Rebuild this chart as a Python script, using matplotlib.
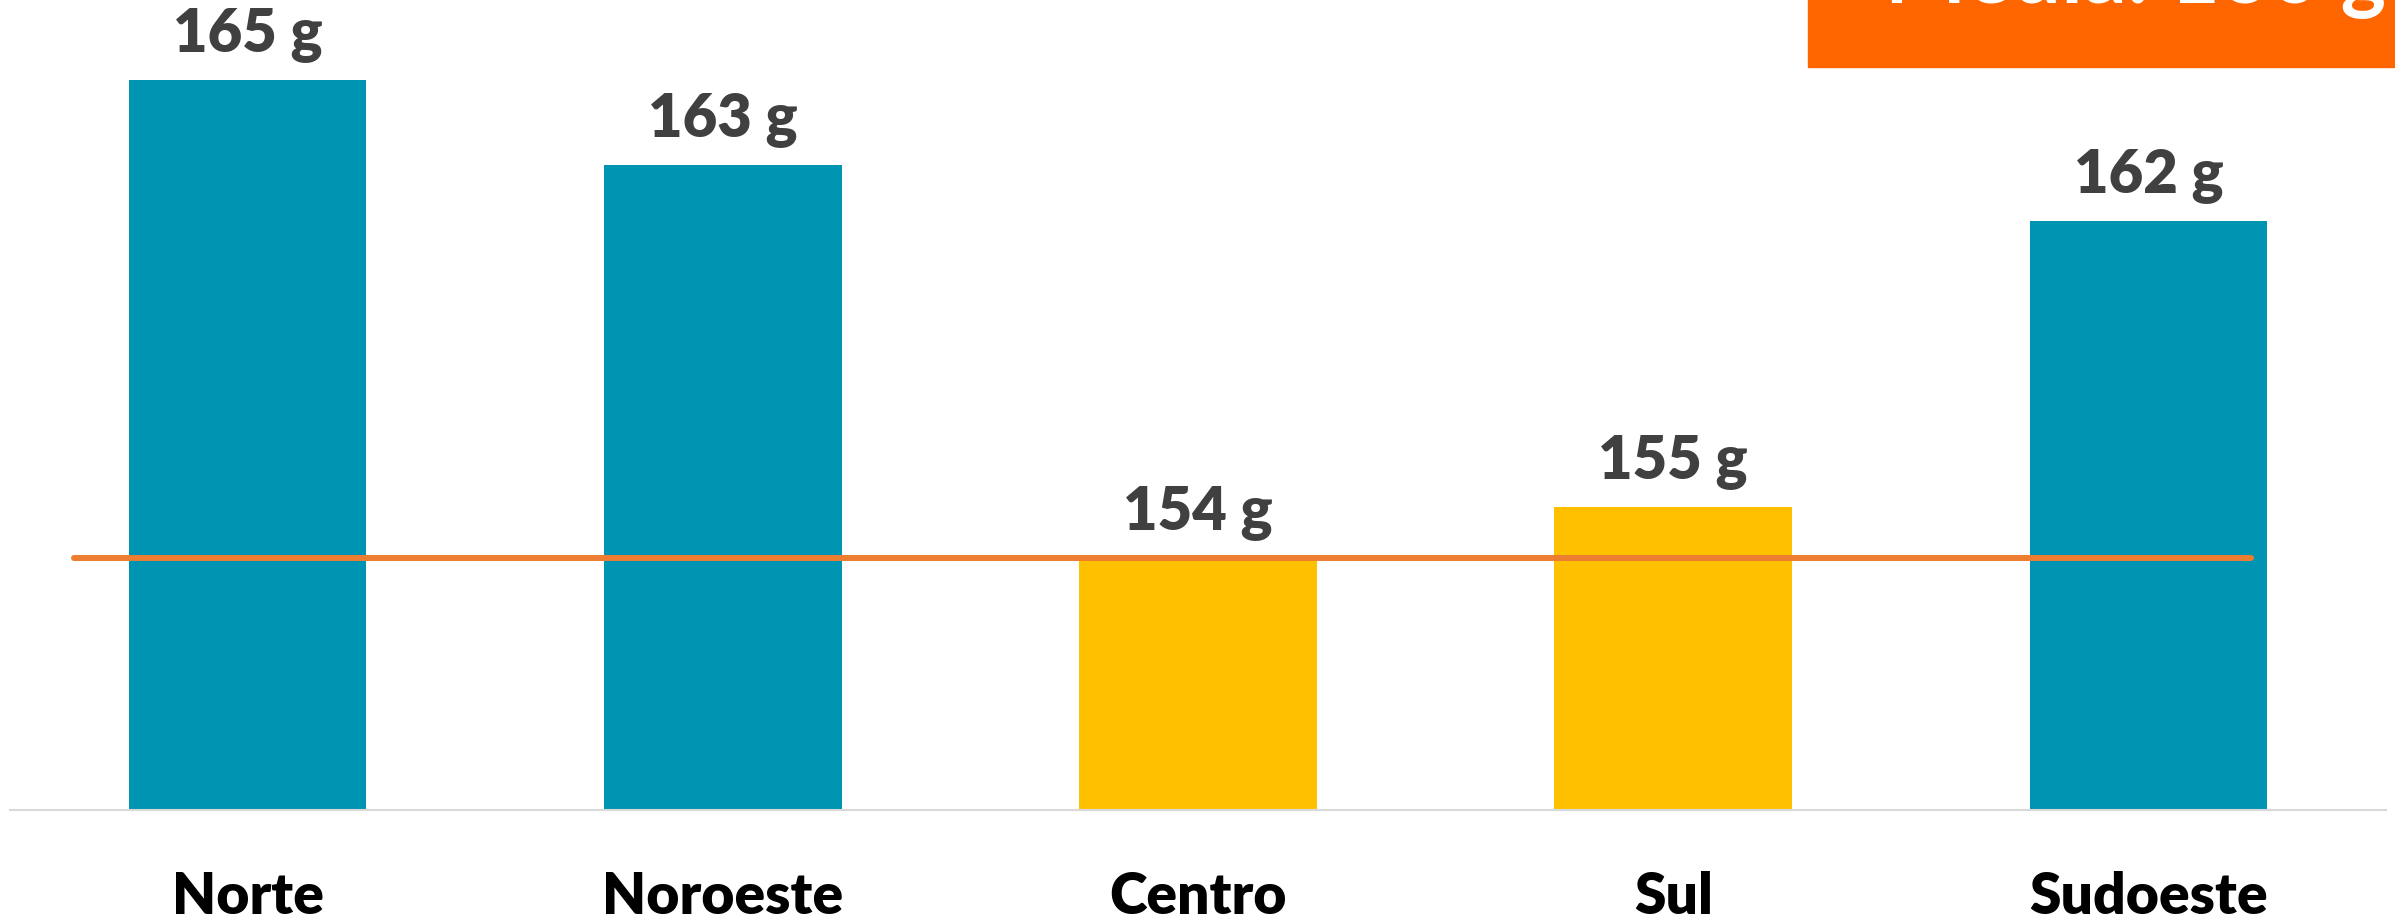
import matplotlib.pyplot as plt
import numpy as np

plt.rcParams["font.family"] = ["Lato", "DejaVu Sans"]

############# DATA ##############################################
regions = ["Norte", "Noroeste", "Centro", "Sul", "Sudoeste"]
weights = [165.0, 163.0, 153.8, 155.0, 161.7]
above_ref = [True, True, False, False, True]
ref_value = 153.8
box_text = "Média: 160 g"

teal = "#0094B3"
yellow = "#FFC000"

############# PLOT ##############################################
W, H = 2395, 919
fig = plt.figure(figsize=(W / 100, H / 100), dpi=100)
ax = fig.add_axes([10 / W, 1 - 810 / H, 2376 / W, 810 / H])

x = np.arange(len(regions))
colors = [teal if a else yellow for a in above_ref]
ax.bar(x, weights, width=0.5, color=colors, zorder=2)

for xi, v in zip(x, weights):
    ax.annotate(
        "{:.0f} g".format(v),
        (xi, v),
        xytext=(0, 21),
        textcoords="offset points",
        ha="center",
        va="baseline",
        fontsize=43,
        fontweight="heavy",
        color="#404040",
    )

ax.plot(
    [-0.366, 4.215],
    [ref_value, ref_value],
    color="#ED7D31",
    lw=4.3,
    solid_capstyle="round",
    zorder=3,
)

ax.set_xlim(-0.5, len(regions) - 0.5)
ax.set_ylim(147.9, 166.87)
ax.set_xticks(x)
ax.set_xticklabels(regions, fontsize=41, fontweight="heavy", color="black")
ax.tick_params(axis="x", length=0, pad=44)
ax.set_yticks([])
for s in ["top", "right", "left"]:
    ax.spines[s].set_visible(False)
ax.spines["bottom"].set_color("#D9D9D9")
ax.spines["bottom"].set_linewidth(1.5)

# orange box in the top right corner, cut off by the figure edge
fig.patches.append(
    plt.Rectangle(
        (1808 / W, 1 - 67 / H),
        1 - 1808 / W,
        67 / H,
        transform=fig.transFigure,
        color="#FF6600",
        zorder=5,
    )
)
fig.text(
    1885 / W,
    1 - 3 / H,
    box_text,
    ha="left",
    va="baseline",
    fontsize=62,
    fontweight="bold",
    color="white",
    zorder=6,
)

fig.savefig("out.png", dpi=100)
